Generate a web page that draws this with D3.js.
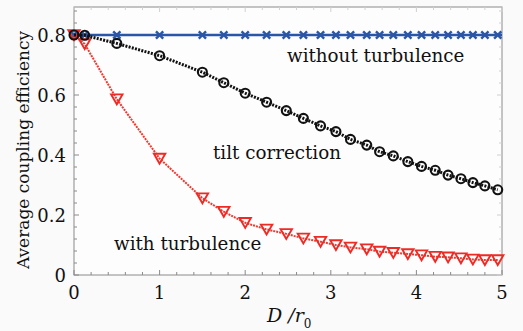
<!DOCTYPE html>
<html>
<head>
<meta charset="utf-8">
<script src="https://cdn.jsdelivr.net/npm/d3@7"></script>
<style>
  body { margin: 0; background: #fafafa; }
  svg { display: block; }
  text { font-family: "DejaVu Serif", "Liberation Serif", serif; fill: #111; }
</style>
</head>
<body>
<svg width="523" height="331"></svg>
<script>
// D/r0 sample positions (shared by all three series)
var xValues = [0, 0.125, 0.5, 1, 1.5, 1.75, 2, 2.25, 2.48, 2.68, 2.88, 3.06, 3.23, 3.42, 3.57, 3.73, 3.9, 4.06, 4.22, 4.37, 4.52, 4.66, 4.8, 4.95];

var noTurbulence = xValues.map(() => 0.8);
var tiltCorrection = [0.8, 0.799, 0.772, 0.731, 0.676, 0.641, 0.606, 0.576, 0.548, 0.522, 0.497, 0.478, 0.452, 0.433, 0.411, 0.397, 0.378, 0.362, 0.349, 0.333, 0.321, 0.308, 0.297, 0.284];
var withTurbulence = [0.8, 0.77, 0.586, 0.388, 0.256, 0.211, 0.174, 0.152, 0.137, 0.122, 0.111, 0.1, 0.092, 0.086, 0.078, 0.074, 0.07, 0.066, 0.061, 0.059, 0.056, 0.052, 0.05, 0.05];

var xTicks = [0, 1, 2, 3, 4, 5];
var yTicks = [0, 0.2, 0.4, 0.6, 0.8];

var svg = d3.select('svg');
var plot = { l: 74, r: 502, t: 7, b: 275 };

var xScale = d3.scaleLinear().domain([0, 5]).range([plot.l, plot.r]);
var yScale = d3.scaleLinear().domain([0, 0.8]).range([plot.b, 35]);

// frame
svg.append('rect')
    .attr('x', plot.l).attr('y', plot.t)
    .attr('width', plot.r - plot.l).attr('height', plot.b - plot.t)
    .attr('fill', '#fdfdfd').attr('stroke', '#8a8a8a').attr('stroke-width', 1);

// minor/major ticks, drawn inward on all four sides
var xMinor = d3.range(0, 5.001, 0.2);
var yMinor = d3.range(0, 0.9, 0.04);

function tickSet(ticks, major, isX) {
    ticks.forEach(function (v) {
        var big = major.some(m => Math.abs(m - v) < 1e-6);
        var len = big ? 5 : 3;
        if (isX) {
            var px = xScale(v);
            svg.append('line').attr('x1', px).attr('x2', px).attr('y1', plot.b).attr('y2', plot.b - len)
                .attr('stroke', '#8a8a8a');
            svg.append('line').attr('x1', px).attr('x2', px).attr('y1', plot.t).attr('y2', plot.t + len)
                .attr('stroke', '#d0d0d0');
        } else {
            var py = yScale(v);
            if (py < plot.t) return;
            svg.append('line').attr('y1', py).attr('y2', py).attr('x1', plot.l).attr('x2', plot.l + len)
                .attr('stroke', '#8a8a8a');
            svg.append('line').attr('y1', py).attr('y2', py).attr('x1', plot.r).attr('x2', plot.r - len)
                .attr('stroke', '#d0d0d0');
        }
    });
}
tickSet(xMinor, xTicks, true);
tickSet(yMinor, yTicks, false);

// tick labels
svg.selectAll('.xlab').data(xTicks).enter().append('text')
    .attr('class', 'xlab')
    .attr('x', d => xScale(d)).attr('y', 299)
    .attr('text-anchor', 'middle').attr('font-size', 18)
    .text(d => d);

svg.selectAll('.ylab').data(yTicks).enter().append('text')
    .attr('class', 'ylab')
    .attr('x', 66).attr('y', d => yScale(d) + 6.5)
    .attr('text-anchor', 'end').attr('font-size', 18)
    .text(d => d === 0 ? '0' : d.toFixed(1));

// axis titles
svg.append('text')
    .attr('transform', 'translate(29,150) rotate(-90)')
    .attr('text-anchor', 'middle').attr('font-size', 17)
    .text('Average coupling efficiency');

var xt = svg.append('text').attr('x', 267).attr('y', 322).attr('font-size', 19).attr('font-style', 'italic');
xt.append('tspan').text('D /r');
xt.append('tspan').attr('font-size', 12).attr('font-style', 'normal').attr('dy', 6).text('0');

// series
var rows = xValues.map((x, i) => ({ x: x, a: noTurbulence[i], b: tiltCorrection[i], c: withTurbulence[i] }));

function lineFor(key) {
    return d3.line().x(d => xScale(d.x)).y(d => yScale(d[key]));
}

// blue: without turbulence (line runs to the right frame)
svg.append('path')
    .attr('fill', 'none').attr('stroke', '#2b56a8').attr('stroke-width', 2.6)
    .attr('d', d3.line().x(d => xScale(d.x)).y(d => yScale(d.a))(rows.concat([{ x: 5, a: noTurbulence[0] }])));
svg.selectAll('.xmark').data(rows).enter().append('path')
    .attr('class', 'xmark')
    .attr('transform', d => 'translate(' + [xScale(d.x), yScale(d.a)] + ')')
    .attr('d', d3.symbol(d3.symbolX, 36))
    .attr('fill', 'none').attr('stroke', '#2b56a8').attr('stroke-width', 2.4);

// red: with turbulence
svg.append('path').datum(rows)
    .attr('fill', 'none').attr('stroke', '#ee3a32').attr('stroke-width', 2)
    .attr('stroke-dasharray', '2,1')
    .attr('d', lineFor('c'));
svg.selectAll('.tri').data(rows).enter().append('path')
    .attr('class', 'tri')
    .attr('transform', d => 'translate(' + [xScale(d.x), yScale(d.c) - 1.5] + ') rotate(180)')
    .attr('d', d3.symbol(d3.symbolTriangle, 56))
    .attr('fill', 'none').attr('stroke', '#ee2a24').attr('stroke-width', 1.9);

// black: tilt correction
svg.append('path').datum(rows)
    .attr('fill', 'none').attr('stroke', '#111').attr('stroke-width', 3)
    .attr('stroke-dasharray', '2,1.3')
    .attr('d', lineFor('b'));
svg.selectAll('.circ').data(rows).enter().append('circle')
    .attr('class', 'circ')
    .attr('cx', d => xScale(d.x)).attr('cy', d => yScale(d.b))
    .attr('r', 4.5)
    .attr('fill', 'none').attr('stroke', '#111').attr('stroke-width', 2.1);

// in-plot labels
svg.append('text').attr('x', 287).attr('y', 62).attr('font-size', 18.3).text('without turbulence');
svg.append('text').attr('x', 213).attr('y', 159).attr('font-size', 18.3).text('tilt correction');
svg.append('text').attr('x', 114).attr('y', 250).attr('font-size', 18.3).text('with turbulence');
</script>
</body>
</html>
